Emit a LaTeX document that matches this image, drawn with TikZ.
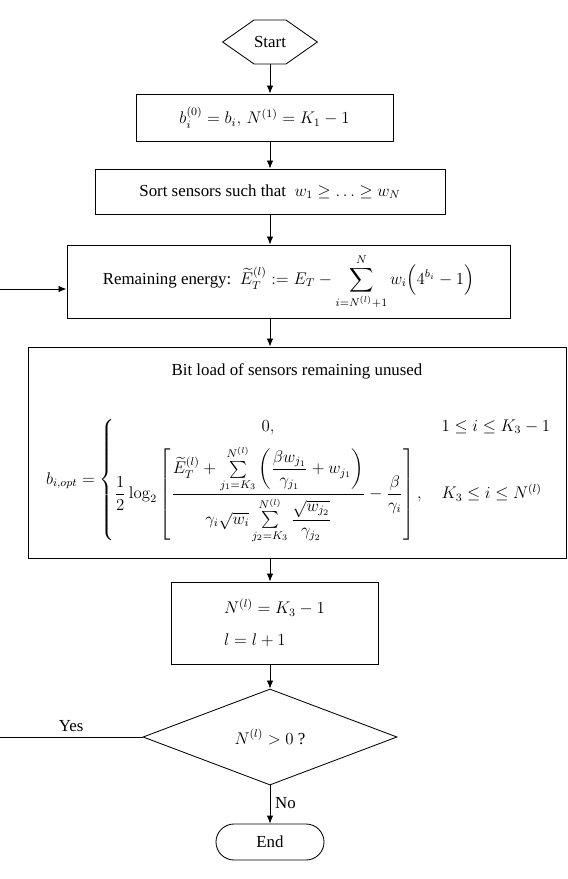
\documentclass[tikz,border=0pt]{standalone}
\usepackage{amsmath,amssymb}
\usepackage[no-math]{fontspec}
\setmainfont{Liberation Serif}
\usetikzlibrary{shapes.geometric,shapes.symbols,shapes.misc,arrows.meta,positioning}

\begin{document}
\begin{tikzpicture}[x=0.025cm, y=-0.025cm, line width=0.6pt,
                    >={Latex[length=2mm,width=1.6mm]},
                    every node/.style={font=\fontsize{12}{14.4}\selectfont},
                    procbox/.style={draw, rectangle, inner sep=0pt}]

\useasboundingbox (0,0) rectangle (567,879);

\node[draw, signal, signal to=west and east, signal pointer angle=70,
      minimum width=2.225cm, minimum height=1.1cm, inner sep=0pt] (start) at (270,42) {Start};

\node[procbox, minimum width=6.425cm, minimum height=1.175cm] (init) at (264.5,117.5)
  {$b_i^{(0)} = b_i,\, N^{(1)} = K_1-1$};

\node[procbox, minimum width=8.75cm, minimum height=1.125cm] (sort) at (270,191.5)
  {Sort sensors such that\ \ $w_1 \ge \ldots \ge w_N$};

\node[procbox, minimum width=11.075cm, minimum height=1.825cm] (energy) at (288.5,281.5)
  {Remaining energy:\ \ $\widetilde{E}_T^{(l)} := E_T - \displaystyle\sum_{i=N^{(l)}+1}^{N} w_i\Big(4^{b_i}-1\Big)$};

\node[procbox, minimum width=13.45cm, minimum height=5.275cm] (bitload) at (297,452.5) {};
\node (loadtitle) at (297,371) {Bit load of sensors remaining unused};
\node (loadeq) at (299,480)
  {$b_{i,opt} = \left\{ \begin{array}{@{}c@{\hspace{0.5cm}}l@{}}
     0, & 1 \le i \le K_3-1 \\[6pt]
     \dfrac{1}{2}\log_2\left[ \dfrac{\rule{0pt}{15pt}\widetilde{E}_T^{(l)} + \sum\limits_{j_1=K_3}^{N^{(l)}} \left(\dfrac{\beta w_{j_1}}{\gamma_{j_1}} + w_{j_1}\right)}
       {\gamma_i\sqrt{w_i}\sum\limits_{j_2=K_3}^{N^{(l)}} \dfrac{\sqrt{w_{j_2}}}{\gamma_{j_2}}\rule[-8pt]{0pt}{0pt}} - \dfrac{\beta}{\gamma_i}\right], & K_3 \le i \le N^{(l)}
   \end{array}\right.$};

\node[procbox, minimum width=5.175cm, minimum height=2.05cm, align=left] (update) at (274.5,623)
  {$N^{(l)} = K_3-1$\\[8pt] $l = l+1$};

\node[draw, diamond, aspect=2.6, minimum width=6.35cm, minimum height=2.4cm, inner sep=0pt] (check) at (270,737)
  {$N^{(l)} > 0$ ?};

\node[draw, rounded rectangle, minimum width=2.7cm, minimum height=0.9cm, inner sep=0pt] (stop) at (270,842) {End};

\coordinate (loopin) at (0,289);
\coordinate (loopout) at (0,737);

% main flow
\draw[->] (start.south) -- (start.south |- init.north);
\draw[->] (sort.north |- init.south) -- (sort.north);
\draw[->] (sort.south) -- (sort.south |- energy.north);
\draw[->] (sort.south |- energy.south) -- (sort.south |- bitload.north);
\draw[->] (check.north |- bitload.south) -- (check.north |- update.north);
\draw[->] (check.north |- update.south) -- (check.north);
\draw[->] (check.south) -- node[right, pos=0.45] {No} (stop.north);

% loop back
\draw (check.west) -- node[above] {Yes} (loopout);
\draw[->] (loopin) -- (loopin -| energy.west);

\end{tikzpicture}
\end{document}
